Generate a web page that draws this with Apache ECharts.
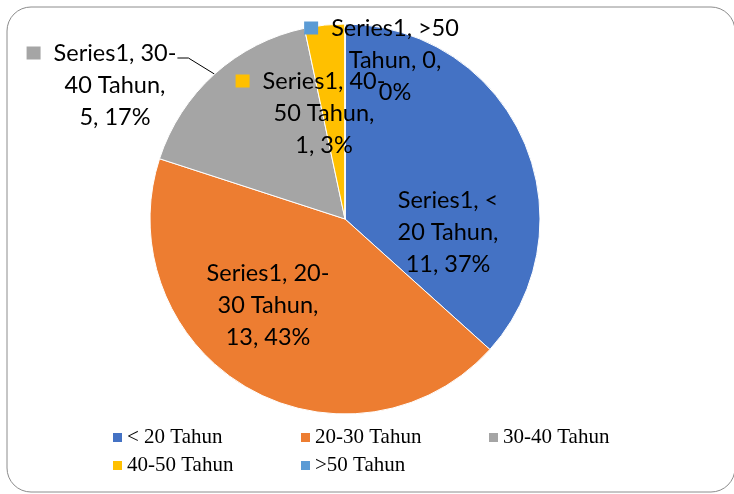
<!DOCTYPE html>
<html><head><meta charset="utf-8">
<script src="https://cdn.jsdelivr.net/npm/echarts@6/dist/echarts.min.js"></script>
<style>html,body{margin:0;padding:0;background:#fff}#c{width:734px;height:494px}</style>
</head><body><div id="c"></div>
<script>
var categories = ['< 20 Tahun', '20-30 Tahun', '30-40 Tahun', '40-50 Tahun', '>50 Tahun'];
var labelNames = ['<\n20 Tahun', '20-\n30 Tahun', '30-\n40 Tahun', '40-\n50 Tahun', '>50\nTahun'];
var breakAfterValue = [false, false, false, false, true];
var values = [11, 13, 5, 1, 0];
var percents = [37, 43, 17, 3, 0];
var colors = ['#4472C4', '#ED7D31', '#A5A5A5', '#FFC000', '#5B9BD5'];
var seriesName = 'Series1';

var chart = echarts.init(document.getElementById('c'));
var CX = 345, CY = 219, R = 195;
var labelPos = [[448, 232], [268, 305], [115, 85], [324, 113], [395, 60]];
var withKey = [false, false, true, true, true];
var total = values.reduce(function (a, b) { return a + b; }, 0);

function edgePoint(i) {
  var before = 0;
  for (var k = 0; k < i; k++) before += values[k];
  var frac = (before + values[i] / 2) / total;
  var ang = (90 - 360 * frac) * Math.PI / 180;
  return [CX + R * Math.cos(ang), CY - R * Math.sin(ang)];
}

var data = categories.map(function (c, i) {
  var parts = labelNames[i].split('\n');
  var l1 = seriesName + ', ' + parts[0];
  var l2, l3;
  if (breakAfterValue[i]) {
    l2 = parts[1] + ', ' + values[i] + ',';
    l3 = percents[i] + '%';
  } else {
    l2 = parts[1] + ',';
    l3 = values[i] + ', ' + percents[i] + '%';
  }
  var first = withKey[i] ? '{k' + i + '|}{g|}{t|' + l1 + '}{pad|}' : '{t|' + l1 + '}';
  var txt = first + '\n{t|' + l2 + '}\n{t|' + l3 + '}';
  return {
    name: c,
    value: values[i],
    itemStyle: { color: colors[i] },
    label: { formatter: txt },
    labelLine: { show: i === 2 }
  };
});

var rich = {
  t: { fontFamily: 'Lato', fontSize: 23.5, color: '#000', lineHeight: 32 },
  g: { width: 13, height: 13 },
  pad: { width: 27, height: 13 }
};
colors.forEach(function (col, i) {
  rich['k' + i] = { backgroundColor: col, width: 14, height: 13 };
});

chart.setOption({
  animation: false,
  backgroundColor: '#fff',
  graphic: [{
    type: 'rect',
    shape: { x: 7, y: 7, width: 728, height: 485, r: 24 },
    style: { fill: 'none', stroke: '#8c8c8c', lineWidth: 1 },
    silent: true, z: -1
  }],
  legend: {
    left: 111, top: 427, width: 575, padding: 0,
    itemWidth: 11, itemHeight: 11, itemGap: 7,
    icon: 'rect',
    data: categories,
    textStyle: { fontFamily: 'Liberation Serif', fontSize: 21, color: '#000', width: 165, lineHeight: 21, padding: [0, 0, 0, -1] }
  },
  series: [{
    type: 'pie',
    name: seriesName,
    center: [CX, CY],
    radius: R,
    startAngle: 90,
    clockwise: true,
    avoidLabelOverlap: false,
    minShowLabelAngle: -1,
    itemStyle: { borderColor: '#fff', borderWidth: 1 },
    label: {
      show: true,
      position: 'outside',
      align: 'center',
      rich: rich,
      lineHeight: 32
    },
    labelLine: { show: false, length: 10, length2: 12, lineStyle: { color: '#000', width: 1 } },
    labelLayout: function (p) {
      var i = p.dataIndex;
      var pos = labelPos[i];
      var res = { x: pos[0], y: pos[1], align: 'center', verticalAlign: 'middle', hideOverlap: false };
      if (i === 2) {
        var e = edgePoint(i);
        var w = p.labelRect.width;
        var ly = pos[1] - 27;
        var lx = pos[0] + w / 2 - 27 + 1;
        res.labelLinePoints = [e, [lx + 11, ly], [lx, ly]];
      }
      return res;
    },
    data: data
  }]
});
</script></body></html>
